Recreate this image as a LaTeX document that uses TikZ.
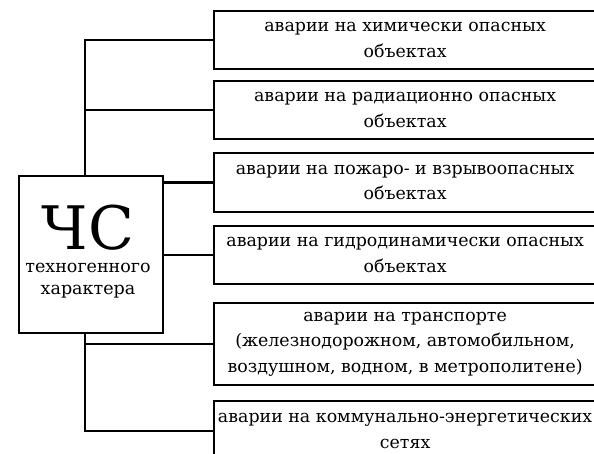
\documentclass[tikz,border=0pt]{standalone}
\usepackage{fontspec}
\setmainfont{DejaVu Serif}
\begin{document}
\begin{tikzpicture}[x=1pt,y=-1pt,
  box/.style={draw=black, line width=2.2pt, inner sep=0pt, anchor=north west,
    minimum width=382pt, align=center, font=\fontsize{17.4}{25.5}\selectfont},
  wire/.style={draw=black, line width=2.2pt},
  lbl/.style={inner sep=0pt, font=\fontsize{17.5}{20}\selectfont}]
\useasboundingbox[fill=white] (0,0) rectangle (594,454);
\node[draw=black, line width=2.2pt, minimum width=144pt, minimum height=157pt, inner sep=0pt, anchor=north west] (main) at (18,175) {};
\node[inner sep=0pt, anchor=base, font=\fontsize{60}{60}\selectfont] (cs) at (88,250) {ЧС};
\node[lbl] (t1) at (88,268) {техногенного};
\node[lbl] (t2) at (88,292) {характера};

\node[box, minimum height=58pt] (b1) at (213,10) {аварии на химически опасных\\объектах};
\node[box, minimum height=58pt] (b2) at (213,80) {аварии на радиационно опасных\\объектах};
\node[box, minimum height=59pt] (b3) at (213,152) {аварии на пожаро- и взрывоопасных\\объектах};
\node[box, minimum height=58pt] (b4) at (213,225) {аварии на гидродинамически опасных\\объектах};
\node[box, minimum height=82pt] (b5) at (213,302) {аварии на транспорте\\(железнодорожном, автомобильном,\\воздушном, водном, в метрополитене)};
\node[box, minimum height=60pt] (b6) at (213,400) {аварии на коммунально-энергетических\\сетях};

\coordinate (tr) at (85,0);
\coordinate (c1) at (tr |- b1.west);
\coordinate (c2) at (tr |- b2.west);
\coordinate (c5) at (tr |- b5.west);
\coordinate (c6) at (tr |- b6.west);
\coordinate (mt) at (tr |- main.north);
\coordinate (mb) at (tr |- main.south);

\draw[wire] (b1.west) -- (c1) -- (mt);
\draw[wire] (c2) -- (b2.west);
\draw[wire] (main.east |- b3.west) -- (b3.west);
\draw[wire] (main.east |- b4.west) -- (b4.west);
\draw[wire] (mb) -- (c6) -- (b6.west);
\draw[wire] (c5) -- (b5.west);
\end{tikzpicture}
\end{document}
